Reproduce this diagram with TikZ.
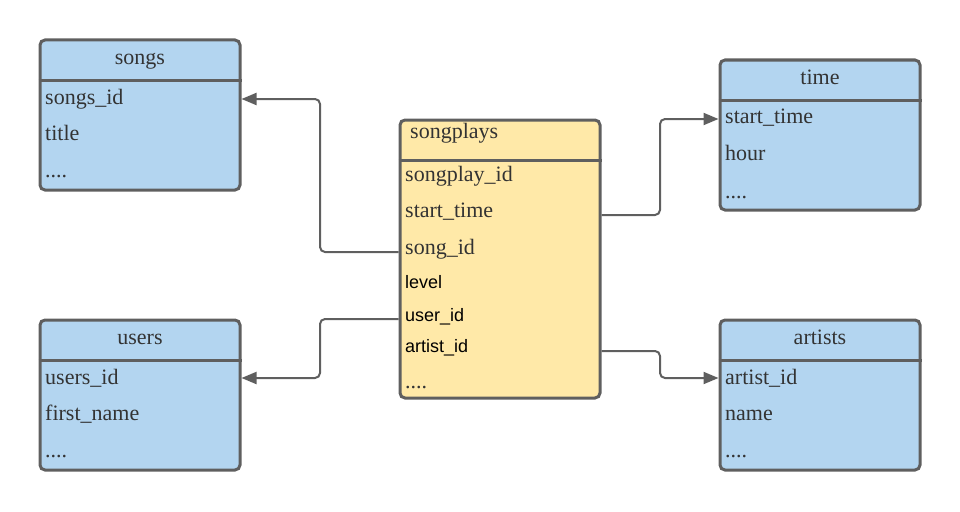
\documentclass[tikz,border=0pt]{standalone}
\usepackage{fontspec}
\setmainfont{Liberation Serif}
\newfontfamily\arialfont{Liberation Sans}
\usetikzlibrary{arrows.meta,calc}
\definecolor{tblblue}{HTML}{B3D5F0}
\definecolor{tblyellow}{HTML}{FFE9A8}
\definecolor{tblborder}{HTML}{5F5F5F}
\definecolor{tbltext}{HTML}{333333}
\tikzset{
  tablebox/.style={draw=tblborder, line width=3pt, rounded corners=5pt, minimum width=200pt, inner sep=0pt},
  bluebox/.style={tablebox, fill=tblblue, minimum height=150pt},
  yellowbox/.style={tablebox, fill=tblyellow, minimum height=278pt},
  sepline/.style={draw=tblborder, line width=3pt},
  rowtext/.style={anchor=base west, inner sep=0pt, text=tbltext, font=\fontsize{22}{24}\selectfont},
  sanstext/.style={anchor=base west, inner sep=0pt, text=black, font=\arialfont\fontsize{18}{20}\selectfont},
  titletext/.style={anchor=base, inner sep=0pt, text=tbltext, font=\fontsize{22}{24}\selectfont},
  link/.style={draw=tblborder, line width=2pt, rounded corners=5pt},
  linkarrow/.style={link, -{Triangle[length=15pt,width=12pt]}}
}
\begin{document}
\begin{tikzpicture}[x=1pt,y=-1pt]
\useasboundingbox (0,0) rectangle (960,511);

% songs
\node[bluebox] (songs) at (140,115) {};
\draw[sepline] (songs.west |- 0,80.5) -- (songs.east |- 0,80.5);
\node[titletext] (songs-t) at (140,64) {songs};
\node[rowtext] (songs-id) at (45,104) {songs\_id};
\node[rowtext] (songs-title) at (45,140) {title};
\node[rowtext] (songs-more) at (45,177) {....};

% time
\node[bluebox] (time) at (820,135) {};
\draw[sepline] (time.west |- 0,100.5) -- (time.east |- 0,100.5);
\node[titletext] (time-t) at (820,84) {time};
\node[rowtext] (time-start) at (725,123) {start\_time};
\node[rowtext] (time-hour) at (725,160) {hour};
\node[rowtext] (time-more) at (725,198) {....};

% users
\node[bluebox] (users) at (140,395) {};
\draw[sepline] (users.west |- 0,360.5) -- (users.east |- 0,360.5);
\node[titletext] (users-t) at (140,344) {users};
\node[rowtext] (users-id) at (45,384) {users\_id};
\node[rowtext] (users-fn) at (45,420) {first\_name};
\node[rowtext] (users-more) at (45,457) {....};

% artists
\node[bluebox] (artists) at (820,395) {};
\draw[sepline] (artists.west |- 0,360.5) -- (artists.east |- 0,360.5);
\node[titletext] (artists-t) at (820,344) {artists};
\node[rowtext] (artists-id) at (725,384) {artist\_id};
\node[rowtext] (artists-name) at (725,420) {name};
\node[rowtext] (artists-more) at (725,457) {....};

% songplays
\node[yellowbox] (sp) at (500,259) {};
\draw[sepline] (sp.west |- 0,160.5) -- (sp.east |- 0,160.5);
\node[rowtext] (sp-t) at (410,138) {songplays};
\node[rowtext] (sp-id) at (405,181) {songplay\_id};
\node[rowtext] (sp-start) at (405,217) {start\_time};
\node[rowtext] (sp-song) at (405,254) {song\_id};
\node[sanstext] (sp-level) at (405,288) {level};
\node[sanstext] (sp-user) at (405,321) {user\_id};
\node[sanstext] (sp-artist) at (405,352) {artist\_id};
\node[rowtext] (sp-more) at (405,388) {....};

% connectors
\draw[linkarrow] (sp.west |- 0,252) -- (320,252) -- (320,99) -- (songs.east |- 0,99);
\draw[linkarrow] (sp.west |- 0,319) -- (320,319) -- (320,378) -- (users.east |- 0,378);
\draw[linkarrow] (sp.east |- 0,215) -- (660,215) -- (660,119) -- (time.west |- 0,119);
\draw[linkarrow] (sp.east |- 0,351) -- (660,351) -- (660,378) -- (artists.west |- 0,378);
\end{tikzpicture}
\end{document}
